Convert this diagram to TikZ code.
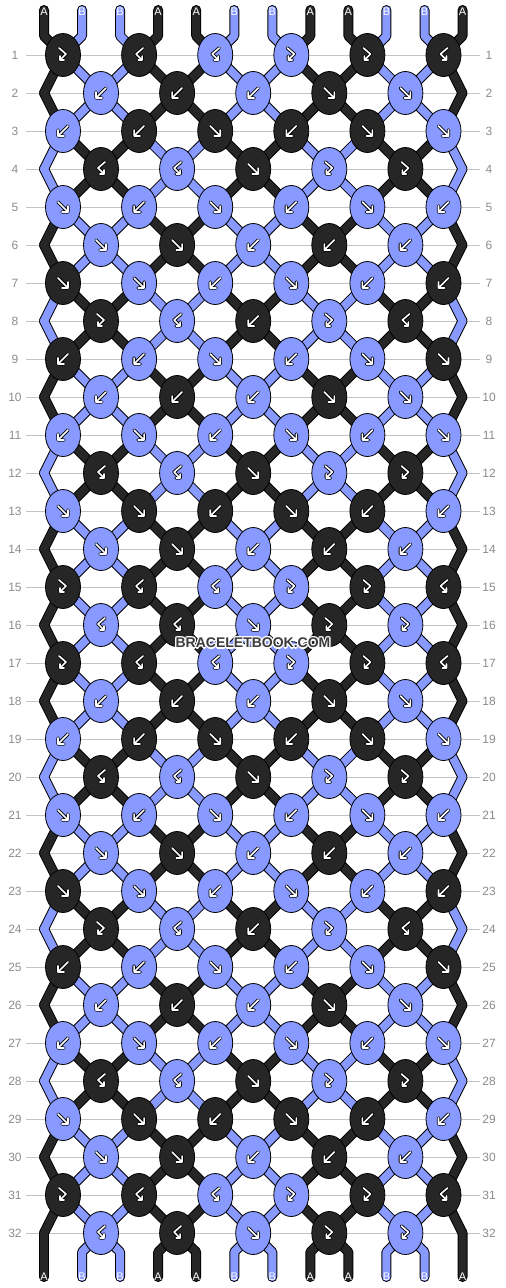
\documentclass[tikz,border=0pt]{standalone}
\usepackage{fontspec}
\setmainfont{Liberation Sans}
\usetikzlibrary{shapes.geometric}
\definecolor{kcol}{RGB}{38,38,38}
\definecolor{ucol}{RGB}{136,153,255}
\definecolor{gridc}{RGB}{195,195,195}
\definecolor{numc}{RGB}{140,140,140}
\definecolor{wmc}{RGB}{60,60,60}
\newcommand\knotrow[2]{%
  \pgfmathsetmacro\yy{17+38*#1}%
  \pgfmathtruncatemacro\odd{mod(#1,2)}%
  \foreach \c/\t [count=\j from 0] in {#2}{%
    \pgfmathsetmacro\xx{\odd==1 ? 63+76.1*\j : 101+76.1*\j}%
    \node[knot\c] (K#1-\j) at (\xx,\yy) {};
    \pic at (K#1-\j.center) {g\t};
  }%
}
\begin{document}
\begin{tikzpicture}[x=1pt,y=-1pt,
  knotk/.style={ellipse,draw=black,line width=0.8pt,fill=kcol,minimum width=35pt,minimum height=43pt,inner sep=0pt},
  knotu/.style={knotk,fill=ucol},
  strout/.style={line width=10pt,line cap=round,line join=round,draw=black},
  strk/.style={line width=8pt,line cap=round,line join=round,draw=kcol},
  stru/.style={line width=8pt,line cap=round,line join=round,draw=ucol},
  gout/.style={draw=black,line width=3.4pt,line cap=round,line join=round},
  gin/.style={draw=white,line width=1.6pt,line cap=round,line join=round},
  rownum/.style={text=numc,font=\fontsize{12}{12}\selectfont,inner sep=0pt},
  strlab/.style={text=white,font=\fontsize{11}{11}\selectfont,inner sep=0pt},
  pics/gf/.style={code={
    \draw[gout] (-5,-5)--(4,4) (5,-1)--(5,5)--(-1,5);
    \draw[gin] (-5,-5)--(4,4) (5,-1)--(5,5)--(-1,5);}},
  pics/gb/.style={code={
    \draw[gout] (5,-5)--(-4,4) (-5,-1)--(-5,5)--(1,5);
    \draw[gin] (5,-5)--(-4,4) (-5,-1)--(-5,5)--(1,5);}},
  pics/gr/.style={code={
    \draw[gout] (-4,-7)--(3,-1)--(-3,5) (-3,1)--(-3,5)--(1,5);
    \draw[gin] (-4,-7)--(3,-1)--(-3,5) (-3,1)--(-3,5)--(1,5);}},
  pics/gl/.style={code={
    \draw[gout] (4,-7)--(-3,-1)--(3,5) (3,1)--(3,5)--(-1,5);
    \draw[gin] (4,-7)--(-3,-1)--(3,5) (3,1)--(3,5)--(-1,5);}},
]
\useasboundingbox (0,0) rectangle (506,1288);
\fill[white] (0,0) rectangle (506,1288);
% grid lines and row numbers
\foreach \r in {1,...,32}{
  \pgfmathsetmacro\yy{17+38*\r}
  \draw[gridc,line width=1pt] (26,\yy) -- (480,\yy);
  \node[rownum] (nl\r) at (15,\yy) {\r};
  \node[rownum] (nr\r) at (489,\yy) {\r};
}
% string coordinates
\foreach \p in {0,...,11}{
  \pgfmathsetmacro\xx{44+38.05*\p}
  \coordinate (T\p) at (\xx,10);
  \coordinate (E\p) at (\xx,1277);
  \coordinate (P0-\p) at (\xx,36);
  \coordinate (P33-\p) at (\xx,1252);
}
\foreach \r in {1,...,32}{
  \pgfmathsetmacro\yy{17+38*\r}
  \pgfmathtruncatemacro\odd{mod(\r,2)}
  \foreach \p in {0,...,11}{
    \pgfmathsetmacro\xx{\odd==1 ? 63+76.1*floor(\p/2) : (\p==0 ? 44 : (\p==11 ? 462.5 : 101+76.1*floor((\p-1)/2)))}
    \coordinate (P\r-\p) at (\xx,\yy);
  }
}
% strings
\foreach \pass in {0,1}{
 \foreach \r in {0,...,32}{
  \pgfmathtruncatemacro\rmod{mod(\r,16)}
  \pgfmathtruncatemacro\sone{(\rmod==3)||(\rmod==4)||(\rmod==7)||(\rmod==8)||(\rmod==11)||(\rmod==12)}
  \pgfmathtruncatemacro\rn{\r+1}
  \foreach \p in {0,...,11}{
    \pgfmathtruncatemacro\pq{mod(\p,4)}
    \pgfmathtruncatemacro\isk{((\pq==0)||(\pq==3)) ? 1-\sone : \sone}
    \ifnum\pass=0 \def\sty{strout}\else \ifnum\isk=1 \def\sty{strk}\else\def\sty{stru}\fi\fi
    \ifnum\r=0
      \draw[\sty] (T\p) -- (P0-\p) -- (P1-\p);
    \else\ifnum\r=32
      \draw[\sty] (P32-\p) -- (P33-\p) -- (E\p);
    \else
      \draw[\sty] (P\r-\p) -- (P\rn-\p);
    \fi\fi
  }
 }
}
% string labels
\foreach \p/\l in {0/A,1/B,2/B,3/A,4/A,5/B,6/B,7/A,8/A,9/B,10/B,11/A}{
  \pgfmathsetmacro\xx{44+38.05*\p}
  \node[strlab] (LT\p) at (\xx,12.2) {\l};
  \node[strlab] (LB\p) at (\xx,1276.7) {\l};
}
% knots
\knotrow{1}{k/r,k/l,u/l,u/r,k/r,k/l}
\knotrow{2}{u/b,k/b,u/b,k/f,u/f}
\knotrow{3}{u/b,k/b,k/f,k/b,k/f,u/f}
\knotrow{4}{k/l,u/l,k/f,u/r,k/r}
\knotrow{5}{u/f,u/b,u/f,u/b,u/f,u/b}
\knotrow{6}{u/f,k/f,u/b,k/b,u/b}
\knotrow{7}{k/f,u/f,u/b,u/f,u/b,k/b}
\knotrow{8}{k/r,u/l,k/b,u/r,k/l}
\knotrow{9}{k/b,u/b,u/f,u/b,u/f,k/f}
\knotrow{10}{u/b,k/b,u/b,k/f,u/f}
\knotrow{11}{u/b,u/f,u/b,u/f,u/b,u/f}
\knotrow{12}{k/l,u/l,k/f,u/r,k/r}
\knotrow{13}{u/f,k/f,k/b,k/f,k/b,u/b}
\knotrow{14}{u/f,k/f,u/b,k/b,u/b}
\knotrow{15}{k/r,k/l,u/l,u/r,k/r,k/l}
\knotrow{16}{u/l,k/l,u/f,k/r,u/r}
\knotrow{17}{k/r,k/l,u/l,u/r,k/r,k/l}
\knotrow{18}{u/b,k/b,u/b,k/f,u/f}
\knotrow{19}{u/b,k/b,k/f,k/b,k/f,u/f}
\knotrow{20}{k/l,u/l,k/f,u/r,k/r}
\knotrow{21}{u/f,u/b,u/f,u/b,u/f,u/b}
\knotrow{22}{u/f,k/f,u/b,k/b,u/b}
\knotrow{23}{k/f,u/f,u/b,u/f,u/b,k/b}
\knotrow{24}{k/r,u/l,k/b,u/r,k/l}
\knotrow{25}{k/b,u/b,u/f,u/b,u/f,k/f}
\knotrow{26}{u/b,k/b,u/b,k/f,u/f}
\knotrow{27}{u/b,u/f,u/b,u/f,u/b,u/f}
\knotrow{28}{k/l,u/l,k/f,u/r,k/r}
\knotrow{29}{u/f,k/f,k/b,k/f,k/b,u/b}
\knotrow{30}{u/f,k/f,u/b,k/b,u/b}
\knotrow{31}{k/r,k/l,u/l,u/r,k/r,k/l}
\knotrow{32}{u/l,k/l,u/f,k/r,u/r}
% watermark
\foreach \dx/\dy in {-1.2/0,1.2/0,0/-1.2,0/1.2,-0.9/-0.9,0.9/0.9,-0.9/0.9,0.9/-0.9}{
  \node[text=white,font=\bfseries\fontsize{14}{14}\selectfont,inner sep=0pt] at (253+\dx,643+\dy) {BRACELETBOOK.COM};
}
\node[text=wmc,font=\bfseries\fontsize{14}{14}\selectfont,inner sep=0pt] (wm) at (253,643) {BRACELETBOOK.COM};
\end{tikzpicture}
\end{document}
